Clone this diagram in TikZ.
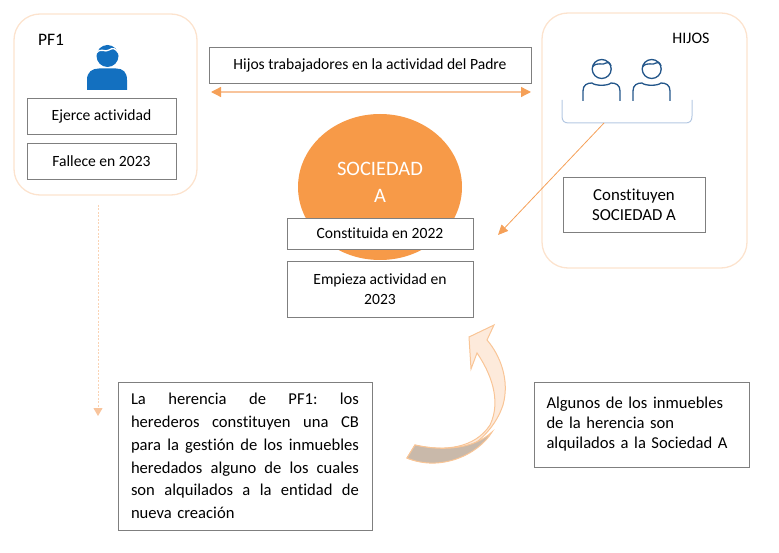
\documentclass[tikz,border=0pt]{standalone}
\usepackage{fontspec}
\setmainfont[Ligatures=NoCommon]{Carlito}
\usetikzlibrary{arrows.meta,shapes.geometric}

\definecolor{boxgray}{HTML}{7F7F7F}
\definecolor{groupline}{HTML}{FCE3CE}
\definecolor{socorange}{HTML}{F79A48}
\definecolor{tiporange}{HTML}{F5A058}
\definecolor{lineorange}{HTML}{F8C49C}
\definecolor{dotorange}{HTML}{FAD3B4}
\definecolor{pfblue}{HTML}{1370C0}
\definecolor{hijoblue}{HTML}{23568A}
\definecolor{bracketblue}{HTML}{B4C8E2}
\definecolor{ribbonfill}{HTML}{FDEADB}
\definecolor{ribbonline}{HTML}{F9C596}
\definecolor{ribbontan}{HTML}{C9B9AA}

\tikzset{
  txtbox/.style={draw=boxgray, line width=0.9pt, fill=white, inner sep=0pt,
    font=\fontsize{15.6}{20}\selectfont, align=center},
  groupbox/.style={draw=groupline, line width=1.3pt, rounded corners=26pt, inner sep=0pt},
  toparrow/.style={draw=lineorange, line width=1.3pt,
    {Triangle[length=10pt,width=10pt,color=tiporange]}-{Triangle[length=10pt,width=10pt,color=tiporange]}},
}

\begin{document}
\begin{tikzpicture}[x=1pt,y=-1pt]
   \useasboundingbox (0,0) rectangle (779,553);

   \node[groupbox, minimum width=183pt, minimum height=181pt] (pfbox) at (105.5,104.5) {};
   \node[groupbox, minimum width=205pt, minimum height=255pt] (hijosbox) at (644.5,140.5) {};
   \node[font=\fontsize{17.5}{19}\selectfont] (pflabel) at (51,40) {PF1};
   \node[font=\fontsize{16}{18}\selectfont] (hijoslabel) at (691,38) {HIJOS};

   % persona PF1
   \fill[pfblue] (107.5,56) circle (11);
   \draw[white, line width=1.3pt] (96.5,53) .. controls (101,47) and (105,53) .. (109,50) .. controls (113,47) and (116,49) .. (118.5,53);
   \fill[pfblue] (87,90) -- (87,80) .. controls (87,72) and (92,68.5) .. (99,68.5) -- (116,68.5) .. controls (123,68.5) and (127,72) .. (127,80) -- (127,90) -- cycle;

   % hijos
   \draw[hijoblue, line width=1.3pt] (601.7,69) circle (9.5);
   \draw[hijoblue, line width=1.3pt] (592.5,67) .. controls (597,61) and (603,66) .. (606,63) .. controls (608,61) and (610,63) .. (611,66);
   \draw[hijoblue, line width=1.3pt] (583,101) -- (583,91) .. controls (583,85) and (587,83) .. (592,83) .. controls (595,86) and (608,86) .. (611,83) .. controls (616,83) and (620,85) .. (620,91) -- (620,101);
   \draw[hijoblue, line width=1.3pt] (651.7,69) circle (9.5);
   \draw[hijoblue, line width=1.3pt] (642.5,67) .. controls (647,61) and (653,66) .. (656,63) .. controls (658,61) and (660,63) .. (661,66);
   \draw[hijoblue, line width=1.3pt] (633,101) -- (633,91) .. controls (633,85) and (637,83) .. (642,83) .. controls (645,86) and (658,86) .. (661,83) .. controls (666,83) and (670,85) .. (670,91) -- (670,101);
   \draw[bracketblue, line width=1pt] (562,100) -- (562,116) .. controls (562,121) and (564,123) .. (569,123) -- (685,123) .. controls (690,123) and (692,121) .. (692,116) -- (692,100);
   \coordinate (bracket) at (604,123);

   \node[txtbox, minimum width=149pt, minimum height=36pt] (ejerce) at (101.5,116) {Ejerce actividad};
   \node[txtbox, minimum width=149pt, minimum height=36pt] (fallece) at (101.5,161) {Fallece en 2023};
   \node[txtbox, minimum width=322pt, minimum height=36pt] (trabajadores) at (370,65) {Hijos trabajadores en la actividad del Padre};
   \node[txtbox, minimum width=142pt, minimum height=55pt, font=\fontsize{16.8}{20}\selectfont] (constituyen) at (634,204.5) {Constituyen\\SOCIEDAD A};

   \node[ellipse, fill=socorange, minimum width=164pt, minimum height=146pt, inner sep=0pt] (sociedad) at (380,187) {};
   \node[white, align=center, font=\fontsize{20.5}{27}\selectfont] (sociedadtxt) at (380,182) {SOCIEDAD\\A};
   \node[txtbox, minimum width=186pt, minimum height=31pt] (constituida) at (380,233.5) {Constituida en 2022};
   \node[txtbox, minimum width=186pt, minimum height=56pt] (empieza) at (380,289) {Empieza actividad en\\2023};

   \node[txtbox, minimum width=254pt, minimum height=148pt, text width=228pt, align=left,
     font=\fontsize{16.6}{22.7}\selectfont] (herencia) at (245,456)
     {\makebox[228pt][s]{La\hfill herencia\hfill de\hfill PF1:\hfill los}\\
      \makebox[228pt][s]{herederos\hfill constituyen\hfill una\hfill CB}\\
      \makebox[228pt][s]{para\hfill la\hfill gestión\hfill de\hfill los\hfill inmuebles}\\
      \makebox[228pt][s]{heredados\hfill alguno\hfill de\hfill los\hfill cuales}\\
      \makebox[228pt][s]{son\hfill alquilados\hfill a\hfill la\hfill entidad\hfill de}\\
      nueva creación};
   \node[txtbox, minimum width=215pt, minimum height=85pt, text width=190pt, align=left,
     font=\fontsize{16.6}{20}\selectfont] (algunos) at (641.5,424.5)
     {Algunos de los inmuebles\\de la herencia son\\alquilados a la Sociedad A};

   \coordinate (trabL) at (211,92);
   \coordinate (trabR) at (531,92);
   \draw[toparrow] (trabL) -- (trabR);
   \coordinate (sociedadR) at (498,235);
   \draw[draw=tiporange, line width=0.8pt, -{Triangle[length=10pt,width=9pt]}] (bracket) -- (sociedadR);
   \coordinate (pfdown) at (98,205);
   \coordinate (herenciaL) at (98,416);
   \draw[draw=dotorange, line width=1pt, dash pattern=on 2pt off 1.5pt, -{Triangle[length=8pt,width=9pt,color=lineorange]}] (pfdown) -- (herenciaL);

   % flecha curva
   \filldraw[fill=ribbonfill, draw=ribbonline, line width=1pt] (407,458) .. controls (440,472) and (490,445) .. (503,405) .. controls (510,380) and (500,355) .. (487,340) -- (494,325) -- (469,337) -- (471,369) -- (477,353) .. controls (490,372) and (502,400) .. (490,425) .. controls (475,448) and (445,452) .. (415,445) -- cycle;
   \filldraw[fill=ribbontan, draw=ribbonline, line width=1pt] (407,458) .. controls (440,472) and (478,455) .. (492,432) .. controls (475,448) and (445,452) .. (415,445) -- cycle;
\end{tikzpicture}
\end{document}
